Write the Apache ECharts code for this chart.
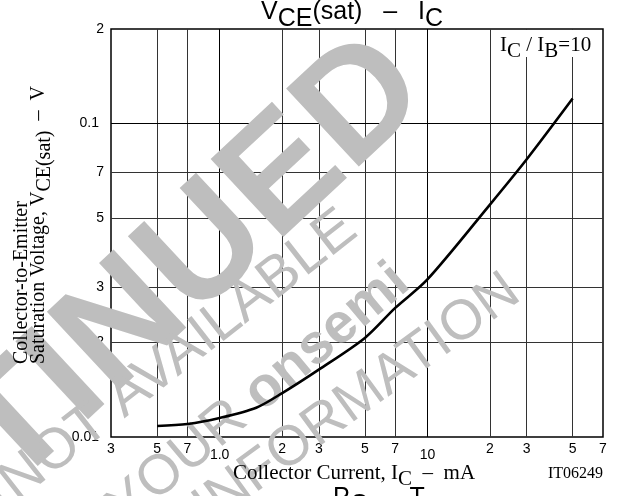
<!DOCTYPE html>
<html><head><meta charset="utf-8">
<script src="https://cdn.jsdelivr.net/npm/echarts@6/dist/echarts.min.js"></script>
<style>html,body{margin:0;padding:0;background:#fff;}#c{width:621px;height:496px;}</style>
</head><body><div id="c"></div>
<script>
// ---- data ----
const xTickValues = [0.3, 0.5, 0.7, 1, 2, 3, 5, 7, 10, 20, 30, 50, 70];
const xTickLabels = ['3', '5', '7', '1.0', '2', '3', '5', '7', '10', '2', '3', '5', '7'];
const yTickValues = [0.01, 0.02, 0.03, 0.05, 0.07, 0.1, 0.2];
const yTickLabels = ['0.01', '2', '3', '5', '7', '0.1', '2'];
const collectorCurrent = [0.5, 0.7, 1, 1.5, 2, 3, 5, 7, 10, 20, 30, 50];
const vceSat = [0.01084, 0.0110, 0.0115, 0.0124, 0.0138, 0.0164, 0.0207, 0.0258, 0.0318, 0.0551, 0.0767, 0.120];

const SANS = 'Liberation Sans';
const SERIF = 'Liberation Serif';
const WM = '#bebebe';

function isDecade(v) { const l = Math.log10(v); return Math.abs(l - Math.round(l)) < 1e-6; }

const xLines = xTickValues.map((v, i) => {
  const edge = i === 0 || i === xTickValues.length - 1;
  const dec = isDecade(v);
  return {
    xAxis: v,
    lineStyle: { color: edge ? 'rgba(0,0,0,0)' : (dec ? '#000' : '#333'), width: edge ? 0 : 1, type: 'solid' },
    label: { formatter: xTickLabels[i], distance: dec ? 11 : 5 }
  };
});
const yLines = yTickValues.map((v, i) => {
  const edge = i === 0 || i === yTickValues.length - 1;
  const dec = isDecade(v);
  return {
    yAxis: v,
    lineStyle: { color: edge ? 'rgba(0,0,0,0)' : (dec ? '#000' : '#333'), width: edge ? 0 : 1, type: 'solid' },
    label: { formatter: yTickLabels[i], distance: dec ? 12 : 7 }
  };
});

function subRich(size, family, drop) {
  return {
    n: { fontSize: size, fontFamily: family, fill: '#000', color: '#000', lineHeight: size, verticalAlign: 'top' },
    s: { fontSize: size, fontFamily: family, fill: '#000', color: '#000', lineHeight: size + drop, verticalAlign: 'bottom' }
  };
}
function richText(x, y, text, size, family, drop, align, valign, rotation) {
  return {
    type: 'text', x: x, y: y, rotation: rotation || 0, z: 2, silent: true,
    style: {
      text: text, rich: subRich(size, family, drop), fontSize: size, fontFamily: family, fill: '#000',
      align: align, textAlign: align, verticalAlign: valign, textVerticalAlign: valign
    }
  };
}
function plainText(x, y, text, size, family, align, valign, rotation) {
  return {
    type: 'text', x: x, y: y, rotation: rotation || 0, z: 2, silent: true,
    style: {
      text: text, fontSize: size, fontFamily: family, fill: '#000',
      align: align, textAlign: align, verticalAlign: valign, textVerticalAlign: valign
    }
  };
}
function wm(x, y, text, size, weight, deg, rich) {
  const st = {
    text: text, fontSize: size, fontFamily: SANS, fontWeight: weight, fill: WM,
    align: 'right', textAlign: 'right', verticalAlign: 'middle', textVerticalAlign: 'middle'
  };
  if (rich) st.rich = rich;
  return { type: 'text', x: x, y: y, rotation: deg * Math.PI / 180, z: 1, silent: true, style: st };
}

const chart = echarts.init(document.getElementById('c'), null, { renderer: 'canvas' });
const option = {
  animation: false,
  backgroundColor: '#fff',
  grid: { left: 111, top: 29, right: 18, bottom: 59, show: true, borderColor: '#000', borderWidth: 1.5, backgroundColor: 'rgba(0,0,0,0)' },
  xAxis: {
    type: 'log', logBase: 10, min: 0.3, max: 70,
    axisLine: { show: false }, axisTick: { show: false }, axisLabel: { show: false },
    splitLine: { show: false }, minorTick: { show: false }, minorSplitLine: { show: false }
  },
  yAxis: {
    type: 'log', logBase: 10, min: 0.01, max: 0.2,
    axisLine: { show: false }, axisTick: { show: false }, axisLabel: { show: false },
    splitLine: { show: false }, minorTick: { show: false }, minorSplitLine: { show: false }
  },
  series: [
    {
      type: 'line', z: 0, silent: true, showSymbol: false,
      data: collectorCurrent.map((x, i) => [x, vceSat[i]]),
      lineStyle: { width: 0, opacity: 0 },
      markLine: {
        z: 0, silent: true, symbol: ['none', 'none'], animation: false,
        label: { show: true, position: 'start', fontFamily: SANS, fontSize: 14, color: '#000' },
        emphasis: { disabled: true },
        data: xLines.concat(yLines)
      }
    },
    {
      type: 'line', z: 3, silent: true, showSymbol: false, smooth: 0.3,
      data: collectorCurrent.map((x, i) => [x, vceSat[i]]),
      lineStyle: { color: '#000', width: 2.6 }
    }
  ],
  graphic: {
    elements: [
      // watermark
      wm(404, 66, 'DISCONTINUED', 155, 'bold', 43),
      wm(350, 222, 'NOT AVAILABLE', 57, 'normal', 38),
      wm(402, 275, '{r|YOUR }{b|onsemi}', 56, 'normal', 40, {
        r: { fontSize: 56, fontFamily: SANS, fill: WM, color: WM },
        b: { fontSize: 56, fontFamily: SANS, fontWeight: 'bold', fill: WM, color: WM }
      }),
      wm(514, 286, 'INFORMATION', 56, 'normal', 36),
      // IC/IB box
      { type: 'rect', z: 1, silent: true, shape: { x: 491, y: 30, width: 111, height: 27 }, style: { fill: '#fff' } },
      richText(500, 35, '{n|I}{s|C}{n| / I}{s|B}{n|=10}', 21, SERIF, 6, 'left', 'top'),
      // title
      richText(261, 0, '{n|V}{s|CE}{n|(sat)   –   I}{s|C}', 25, SANS, 7, 'left', 'top'),
      // next chart title (cut off)
      richText(333, 486, '{n|P}{s|C}{n|  –  T}{s|a}', 25, SANS, 7, 'left', 'top'),
      // axis names
      plainText(22, 364, 'Collector-to-Emitter', 20, SERIF, 'left', 'middle', Math.PI / 2),
      richText(42, 364, '{n|Saturation Voltage, V}{s|CE(sat)}{n|  –  V}', 20, SERIF, 6, 'left', 'middle', Math.PI / 2),
      richText(233, 463, '{n|Collector Current, I}{s|C}{n|  –  mA}', 21, SERIF, 6, 'left', 'top'),
      plainText(603, 474, 'IT06249', 16, SERIF, 'right', 'middle')
    ]
  }
};
chart.setOption(option);
</script>
</body></html>
